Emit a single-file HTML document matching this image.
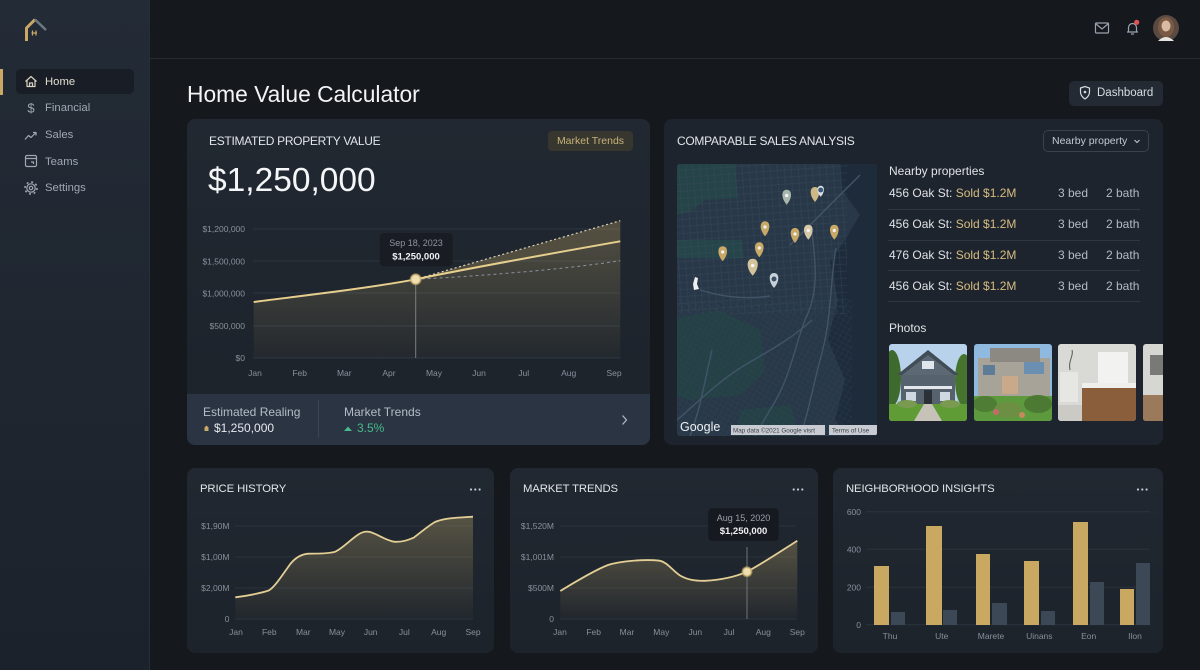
<!DOCTYPE html>
<html><head><meta charset="utf-8">
<style>
*{margin:0;padding:0;box-sizing:border-box}
html,body{width:1200px;height:670px;overflow:hidden;background:#15181d;font-family:"Liberation Sans",sans-serif;color:#e4e7eb}
.a{position:absolute;white-space:nowrap}
.card{position:absolute;background:linear-gradient(180deg,#212831,#1d232b);border-radius:8px;overflow:hidden}
.nav{position:absolute;left:45px;font-size:11.3px;line-height:14px;color:#a0a8b3}
.ttl{position:absolute;font-size:12px;line-height:14px;color:#e3e6ea;letter-spacing:-0.3px}
.bt{position:absolute;font-size:11.3px;line-height:14px;color:#e3e6ea;letter-spacing:-0.1px}
.row{position:absolute;left:889px;font-size:12px;line-height:14px;color:#dfe2e6}
.row b{font-weight:normal;color:#d6bd82}
.rb{position:absolute;font-size:12px;line-height:14px;color:#b3bac3}
.sep{position:absolute;left:888px;width:252px;height:1px;background:#2f3742}
</style></head><body>

<!-- sidebar -->
<div class="a" style="left:0;top:0;width:150px;height:670px;background:linear-gradient(180deg,#232b36,#1c222b);border-right:1px solid #272e38"></div>
<div class="a" style="left:150px;top:58px;width:1050px;height:1px;background:#272c34"></div>
<div class="a" style="left:16px;top:69px;width:118px;height:25px;background:#191e26;border-radius:5px"></div>
<div class="a" style="left:0;top:69px;width:3px;height:26px;background:#c9a965"></div>
<div class="nav" style="top:75px;color:#e2ddd0">Home</div>
<div class="nav" style="top:101px">Financial</div>
<div class="nav" style="top:128px">Sales</div>
<div class="nav" style="top:155px">Teams</div>
<div class="nav" style="top:181px">Settings</div>

<!-- header -->
<div class="a" style="left:187px;top:81px;font-size:22.8px;line-height:26px;color:#f2f4f6">Home Value Calculator</div>
<div class="a" style="left:1069px;top:81px;width:94px;height:25px;background:#232a34;border-radius:5px"></div>
<div class="a" style="left:1097px;top:86px;font-size:11.5px;line-height:14px;color:#d9dde2">Dashboard</div>

<!-- card 1 -->
<div class="card" style="left:187px;top:119px;width:463px;height:326px">
  <div class="a" style="left:0;top:275px;width:463px;height:51px;background:#2a3443"></div>
</div>
<div class="ttl" style="left:209px;top:134px">ESTIMATED PROPERTY VALUE</div>
<div class="a" style="left:548px;top:131px;width:85px;height:20px;background:#37372f;border-radius:4px;font-size:10.5px;line-height:20px;text-align:center;color:#c9b27a">Market Trends</div>
<div class="a" style="left:208px;top:162px;font-size:33.5px;line-height:38px;color:#f5f6f8">$1,250,000</div>
<div class="a" style="left:203px;top:405px;font-size:12px;line-height:14px;color:#b4bcc7">Estimated Realing</div>
<div class="a" style="left:214px;top:421px;font-size:12px;line-height:14px;color:#e8eaee">$1,250,000</div>
<div class="a" style="left:318px;top:400px;width:1px;height:38px;background:#3a4656"></div>
<div class="a" style="left:344px;top:405px;font-size:12px;line-height:14px;color:#b4bcc7">Market Trends</div>
<div class="a" style="left:357px;top:421px;font-size:12px;line-height:14px;color:#48b98a">3.5%</div>

<!-- card 2 -->
<div class="card" style="left:664px;top:119px;width:499px;height:326px;background:#1e242d"></div>
<div class="ttl" style="left:677px;top:134px">COMPARABLE SALES ANALYSIS</div>
<div class="a" style="left:1043px;top:130px;width:106px;height:22px;border:1px solid #39414c;border-radius:5px"></div>
<div class="a" style="left:1052px;top:134px;font-size:10.5px;line-height:14px;color:#c4cad2">Nearby property</div>
<div class="a" style="left:889px;top:164px;font-size:12px;line-height:14px;color:#e0e3e8">Nearby properties</div>
<div class="row" style="top:186px">456 Oak St: <b>Sold $1.2M</b></div>
<div class="row" style="top:217px">456 Oak St: <b>Sold $1.2M</b></div>
<div class="row" style="top:248px">476 Oak St: <b>Sold $1.2M</b></div>
<div class="row" style="top:279px">456 Oak St: <b>Sold $1.2M</b></div>
<div class="rb" style="left:1058px;top:186px">3 bed</div><div class="rb" style="left:1106px;top:186px">2 bath</div>
<div class="rb" style="left:1058px;top:217px">3 bed</div><div class="rb" style="left:1106px;top:217px">2 bath</div>
<div class="rb" style="left:1058px;top:248px">3 bed</div><div class="rb" style="left:1106px;top:248px">2 bath</div>
<div class="rb" style="left:1058px;top:279px">3 bed</div><div class="rb" style="left:1106px;top:279px">2 bath</div>
<div class="sep" style="top:209px"></div><div class="sep" style="top:240px"></div>
<div class="sep" style="top:270px"></div><div class="sep" style="top:301px"></div>
<div class="a" style="left:889px;top:321px;font-size:12px;line-height:14px;color:#e0e3e8">Photos</div>

<!-- bottom cards -->
<div class="card" style="left:187px;top:468px;width:307px;height:185px"></div>
<div class="card" style="left:510px;top:468px;width:308px;height:185px"></div>
<div class="card" style="left:833px;top:468px;width:330px;height:185px"></div>
<div class="bt" style="left:200px;top:482px">PRICE HISTORY</div>
<div class="bt" style="left:523px;top:482px">MARKET TRENDS</div>
<div class="bt" style="left:846px;top:482px">NEIGHBORHOOD INSIGHTS</div>

<svg class="a" style="left:0;top:0" width="1200" height="670" viewBox="0 0 1200 670" xmlns="http://www.w3.org/2000/svg" font-family="Liberation Sans, sans-serif">
<defs>
  <linearGradient id="g1" x1="0" y1="0" x2="0" y2="1">
    <stop offset="0" stop-color="#c9b06e" stop-opacity="0.26"/>
    <stop offset="1" stop-color="#c9b06e" stop-opacity="0.03"/>
  </linearGradient>
  <linearGradient id="g2" x1="0" y1="0" x2="0" y2="1">
    <stop offset="0" stop-color="#c9b06e" stop-opacity="0.32"/>
    <stop offset="1" stop-color="#c9b06e" stop-opacity="0.02"/>
  </linearGradient>
  <pattern id="streets" width="7" height="7" patternUnits="userSpaceOnUse" patternTransform="rotate(-4)">
    <path d="M0,0.5 H7 M0.5,0 V7" stroke="#3a4b5c" stroke-width="0.5" fill="none"/>
  </pattern>
  <pattern id="streets2" width="5" height="5" patternUnits="userSpaceOnUse" patternTransform="rotate(30)">
    <path d="M0,0.5 H5 M0.5,0 V5" stroke="#364757" stroke-width="0.45" fill="none"/>
  </pattern>
  <clipPath id="mapclip"><rect x="677" y="164" width="200" height="272" rx="3"/></clipPath>
  <clipPath id="c2"><rect x="664" y="119" width="499" height="326" rx="8"/></clipPath>
  <clipPath id="p1"><rect x="889" y="344" width="78" height="77" rx="3"/></clipPath>
  <clipPath id="p2"><rect x="974" y="344" width="78" height="77" rx="3"/></clipPath>
  <clipPath id="p3"><rect x="1058" y="344" width="78" height="77" rx="3"/></clipPath>
  <clipPath id="p4"><rect x="1143" y="344" width="78" height="77" rx="3"/></clipPath>
</defs>

<!-- logo -->
<path d="M26.5,41 V28 L35,19.5" stroke="#c9a965" stroke-width="3" fill="none" stroke-linejoin="round"/>
<path d="M35,19.5 L46,30" stroke="#6c7884" stroke-width="2.5" fill="none"/>
<path d="M32.5,30.5 v5 M36,30.5 v5 M31.5,33 h5.5" stroke="#c9a965" stroke-width="1.2"/>

<!-- nav icons -->
<g fill="none" stroke="#a0a8b3" stroke-width="1.2" stroke-linejoin="round">
  <path d="M25.5,81.5 L31,76.5 L36.5,81.5 M27,80.5 V86.5 H35 V80.5 M29.5,86.5 V83 H32.5 V86.5" stroke="#d8d2c0"/>
  <path d="M25,139.5 L28.5,135.5 L31,137.5 L36,132.5 M33,132.5 H36 V135.5"/>
  <rect x="25.5" y="155.5" width="11" height="11" rx="1.5"/>
  <path d="M25.5,158.5 H36.5 M31,162 h2.5 v2"/>
  <circle cx="31" cy="188" r="4.2"/>
  <circle cx="31" cy="188" r="1.7"/>
  <circle cx="31" cy="188" r="6" stroke-width="1.6" stroke-dasharray="2 2.7"/>
</g>
<text x="31" y="112.5" text-anchor="middle" font-size="13" fill="#a0a8b3">$</text>

<!-- header icons -->
<g fill="none" stroke="#9aa3ae" stroke-width="1.2">
  <rect x="1095.5" y="23" width="13" height="10" rx="1"/>
  <path d="M1095.5,23.5 L1102,29 L1108.5,23.5"/>
  <path d="M1127,32 H1138 M1128.5,32 V27.5 A4,4 0 0 1 1136.5,27.5 V32 M1131,34 h3"/>
</g>
<circle cx="1136.7" cy="22.3" r="2.6" fill="#e05252"/>
<circle cx="1166" cy="28" r="13" fill="#5a4a42"/>
<ellipse cx="1166" cy="27" rx="8" ry="10" fill="#7a5a45"/>
<ellipse cx="1166" cy="26" rx="4.5" ry="5.5" fill="#d9bba4"/>
<path d="M1158,41 Q1166,33 1174,41 Z" fill="#e8e4e0"/>
<path d="M1080.5,88 L1085,86.5 L1089.5,88 V92 Q1089.5,96 1085,99 Q1080.5,96 1080.5,92 Z" fill="none" stroke="#d9dde2" stroke-width="1.2"/>
<circle cx="1085" cy="92" r="1.3" fill="#d9dde2"/>

<!-- main chart -->
<g stroke="#2d3642" stroke-width="1">
  <line x1="253" y1="229" x2="620" y2="229"/>
  <line x1="253" y1="261" x2="620" y2="261"/>
  <line x1="253" y1="293" x2="620" y2="293"/>
  <line x1="253" y1="326" x2="620" y2="326"/>
  <line x1="253" y1="358" x2="620" y2="358"/>
</g>
<g font-size="8.5" fill="#87909c" text-anchor="end">
  <text x="245" y="232">$1,200,000</text>
  <text x="245" y="264.5">$1,500,000</text>
  <text x="245" y="296.5">$1,000,000</text>
  <text x="245" y="329">$500,000</text>
  <text x="245" y="361">$0</text>
</g>
<g font-size="8.5" fill="#87909c" text-anchor="middle">
  <text x="255" y="376">Jan</text><text x="299.7" y="376">Feb</text><text x="344.3" y="376">Mar</text>
  <text x="389" y="376">Apr</text><text x="434" y="376">May</text><text x="479" y="376">Jun</text>
  <text x="523.7" y="376">Jul</text><text x="568.7" y="376">Aug</text><text x="614" y="376">Sep</text>
</g>
<path d="M253.7,302 C300,296 370,288 415.7,279.3 C480,266 560,252 620.3,241.3 L620.3,358 L253.7,358 Z" fill="url(#g1)"/>
<path d="M415.7,279.3 L620.3,220.7 L620.3,241.3 C560,252 480,266 415.7,279.3 Z" fill="#c9ac68" fill-opacity="0.3"/>
<path d="M415.7,279.3 L620.3,220.7" stroke="#d8d0bc" stroke-width="1.2" stroke-dasharray="2 2.5" fill="none"/>
<path d="M415.7,279.3 C480,276 560,270 620.3,260.7" stroke="#8a90a0" stroke-width="1" stroke-dasharray="3 3" fill="none"/>
<line x1="415.7" y1="283" x2="415.7" y2="358" stroke="#7b7f84" stroke-width="1"/>
<path d="M253.7,302 C300,296 370,288 415.7,279.3 C480,266 560,252 620.3,241.3" stroke="#e6cf8e" stroke-width="2" fill="none"/>
<circle cx="415.7" cy="279.3" r="5" fill="#efe0b2" stroke="#c9ac68" stroke-opacity="0.6" stroke-width="2"/>
<rect x="379.7" y="233" width="73" height="33.3" rx="4" fill="#191d23"/>
<text x="416" y="246" text-anchor="middle" font-size="9" fill="#8d939c">Sep 18, 2023</text>
<text x="416" y="259.5" text-anchor="middle" font-size="9.5" font-weight="bold" fill="#eef0f2">$1,250,000</text>
<!-- card1 bottom icons -->
<path d="M204.5,431 V427.5 L206.5,425.5 L208.5,427.5 V431 Z" fill="#c9a965"/>
<path d="M344,431 L348,426.5 L352,431 Z" fill="#48b98a"/>
<path d="M622.5,415.5 L626.5,420 L622.5,424.5" stroke="#aeb6c0" stroke-width="1.3" fill="none"/>
<path d="M1134.5,140 L1137,142.5 L1139.5,140" stroke="#c4cad2" stroke-width="1" fill="none"/>

<!-- map -->
<g clip-path="url(#mapclip)">
  <rect x="677" y="164" width="200" height="272" fill="#283848"/>
  <path d="M677,164 H735 L738,198 L705,200 L690,212 L677,214 Z" fill="#254448"/>
  <path d="M677,240 H742 L744,258 H677 Z" fill="#25454a"/>
  <path d="M677,318 L720,310 L760,330 L765,372 L740,395 L690,400 L677,396 Z" fill="#244146"/>
  <path d="M740,410 L790,405 L800,436 L735,436 Z" fill="#244246"/>
  <path d="M840,164 H877 V436 H850 L835,420 L845,380 L828,340 L838,300 L830,262 L845,240 L860,215 L842,190 Z" fill="#1d2b3b"/>
  <rect x="677" y="164" width="170" height="150" fill="url(#streets)" opacity="0.75"/>
  <rect x="677" y="300" width="175" height="136" fill="url(#streets2)" opacity="0.55"/>
  <g fill="none" stroke="#425468" stroke-width="1.4">
    <path d="M812,232 C815,260 820,290 805,320 C795,345 790,380 770,410 L755,436"/>
    <path d="M836,248 C830,280 832,320 820,360 C812,390 808,415 800,436"/>
    <path d="M677,420 C700,400 720,380 745,365 C770,350 790,340 812,320"/>
    <path d="M700,290 C720,296 740,300 770,296"/>
    <path d="M860,175 L790,245"/>
    <path d="M690,436 C700,410 705,380 712,350"/>
  </g>
  <rect x="731" y="425" width="94" height="10" fill="#c8ccd2"/>
  <rect x="829" y="425" width="48" height="10" fill="#c8ccd2"/>
  <text x="733" y="432.5" font-size="6.3" fill="#3a3f46">Map data ©2021 Google visrt</text>
  <text x="832" y="432.5" font-size="6.3" fill="#3a3f46">Terms of Use</text>
  <text x="680" y="431" font-size="12.5" fill="#f0f2f4">Google</text>
</g>
<!-- pins -->
<g>
  <path transform="translate(786.7,196.7)" d="M0,8 C-6,1 -5.5,-7 0,-7 C5.5,-7 6,1 0,8 Z" fill="#a9b6ad"/>
  <path transform="translate(815,194)" d="M0,8 C-6,1 -5.5,-7 0,-7 C5.5,-7 6,1 0,8 Z" fill="#cdb886"/>
  <path transform="translate(820.7,190.7)" d="M0,6 C-4.5,1 -4,-5 0,-5 C4,-5 4.5,1 0,6 Z" fill="#dfe4ea"/>
  <circle cx="820.7" cy="190" r="2.5" fill="#3b5a7a"/>
  <path transform="translate(765,228.3)" d="M0,8 C-6,1 -5.5,-7 0,-7 C5.5,-7 6,1 0,8 Z" fill="#c9a967"/>
  <path transform="translate(795,235)" d="M0,8 C-6,1 -5.5,-7 0,-7 C5.5,-7 6,1 0,8 Z" fill="#c9a967"/>
  <path transform="translate(808.3,231.7)" d="M0,8 C-6,1 -5.5,-7 0,-7 C5.5,-7 6,1 0,8 Z" fill="#d7c9a8"/>
  <path transform="translate(834.3,231.7)" d="M0,8 C-6,1 -5.5,-7 0,-7 C5.5,-7 6,1 0,8 Z" fill="#c9a967"/>
  <path transform="translate(722.7,253.3)" d="M0,8 C-6,1 -5.5,-7 0,-7 C5.5,-7 6,1 0,8 Z" fill="#c9a967"/>
  <path transform="translate(759.3,249.3)" d="M0,8 C-6,1 -5.5,-7 0,-7 C5.5,-7 6,1 0,8 Z" fill="#c9a967"/>
  <path transform="translate(752.7,266.7)" d="M0,9 C-7,1 -6.5,-8 0,-8 C6.5,-8 7,1 0,9 Z" fill="#d3c39b"/>
  <path transform="translate(774,280)" d="M0,8 C-6,1 -5.5,-7 0,-7 C5.5,-7 6,1 0,8 Z" fill="#c9d2da"/>
  <circle cx="774" cy="279" r="2.5" fill="#3b5066"/>
  <g fill="#f4f4f4"><circle cx="765" cy="227" r="1.6"/><circle cx="795" cy="234" r="1.6"/><circle cx="834.3" cy="230.5" r="1.6"/><circle cx="722.7" cy="252" r="1.6"/><circle cx="759.3" cy="248" r="1.6"/><circle cx="752.7" cy="265.5" r="1.8"/><circle cx="808.3" cy="230.5" r="1.6"/><circle cx="786.7" cy="195.5" r="1.6"/></g>
  <path d="M695,277 L698,278 L697,284 L699,289 L694,290 L693,284 Z" fill="#f0f0f0"/>
</g>

<!-- photos -->
<g clip-path="url(#p1)">
  <rect x="889" y="344" width="78" height="77" fill="#b7d2ea"/>
  <ellipse cx="892" cy="378" rx="9" ry="28" fill="#3f6a2d"/>
  <ellipse cx="964" cy="380" rx="9" ry="26" fill="#46742f"/>
  <rect x="901" y="372" width="54" height="34" fill="#56636f"/>
  <polygon points="897,375 928,350 959,375" fill="#414c56"/>
  <polygon points="902,375 928,355 954,375" fill="#5c6873"/>
  <rect x="922" y="361" width="12" height="8" fill="#dfe6ec"/>
  <rect x="904" y="386" width="48" height="3" fill="#e4e8ec"/>
  <rect x="906" y="392" width="10" height="9" fill="#cfd8e0"/>
  <rect x="940" y="392" width="10" height="9" fill="#cfd8e0"/>
  <rect x="924" y="390" width="8" height="14" fill="#2b3036"/>
  <rect x="889" y="404" width="78" height="17" fill="#5f9c36"/>
  <polygon points="924,404 932,404 942,421 914,421" fill="#c6c2b8"/>
  <ellipse cx="907" cy="404" rx="10" ry="4" fill="#7a9a52"/>
  <ellipse cx="950" cy="404" rx="10" ry="4" fill="#7a9a52"/>
</g>
<g clip-path="url(#p2)">
  <rect x="974" y="344" width="78" height="77" fill="#8fb9df"/>
  <rect x="978" y="358" width="72" height="42" fill="#a7a398"/>
  <rect x="990" y="348" width="50" height="14" fill="#8c8982"/>
  <rect x="1024" y="362" width="20" height="12" fill="#6a8fb0"/>
  <rect x="983" y="365" width="12" height="10" fill="#5d7c98"/>
  <rect x="1002" y="376" width="16" height="18" fill="#c9a98a"/>
  <rect x="974" y="396" width="78" height="25" fill="#5d9a3d"/>
  <ellipse cx="985" cy="404" rx="12" ry="8" fill="#4f7d36"/>
  <ellipse cx="1008" cy="410" rx="14" ry="8" fill="#6d8f44"/>
  <ellipse cx="1038" cy="404" rx="14" ry="9" fill="#4c7a33"/>
  <circle cx="996" cy="412" r="3" fill="#c46a6a"/>
  <circle cx="1022" cy="415" r="3" fill="#c48a5a"/>
</g>
<g clip-path="url(#p3)">
  <rect x="1058" y="344" width="78" height="77" fill="#d9d9d5"/>
  <rect x="1098" y="352" width="30" height="32" fill="#f2f2f0"/>
  <rect x="1060" y="372" width="18" height="30" fill="#e6e6e2"/>
  <rect x="1082" y="383" width="54" height="5" fill="#efefec"/>
  <rect x="1082" y="388" width="54" height="33" fill="#8a5d3b"/>
  <rect x="1058" y="405" width="24" height="16" fill="#cbcac5"/>
  <path d="M1070,370 C1068,360 1074,356 1072,350" stroke="#555" stroke-width="1" fill="none"/>
</g>
<g clip-path="url(#c2)">
  <g clip-path="url(#p4)">
    <rect x="1143" y="344" width="78" height="77" fill="#d6d6d2"/>
    <rect x="1150" y="355" width="14" height="20" fill="#3a3a3a" fill-opacity="0.6"/>
    <rect x="1143" y="395" width="78" height="26" fill="#9a7a5a"/>
  </g>
</g>

<!-- price history -->
<g stroke="#2b333e" stroke-width="1">
  <line x1="235" y1="526" x2="473" y2="526"/><line x1="235" y1="557" x2="473" y2="557"/>
  <line x1="235" y1="588" x2="473" y2="588"/><line x1="235" y1="619" x2="473" y2="619"/>
</g>
<g font-size="8.5" fill="#87909c" text-anchor="end">
  <text x="229.5" y="529">$1,90M</text><text x="229.5" y="560">$1,00M</text>
  <text x="229.5" y="591">$2,00M</text><text x="229.5" y="622">0</text>
</g>
<g font-size="8.5" fill="#87909c" text-anchor="middle">
  <text x="236" y="635">Jan</text><text x="269.3" y="635">Feb</text><text x="303.3" y="635">Mar</text>
  <text x="337" y="635">May</text><text x="370.7" y="635">Jun</text><text x="404.3" y="635">Jul</text>
  <text x="438.7" y="635">Aug</text><text x="473" y="635">Sep</text>
</g>
<path d="M235.3,597.3 C245,596 258,594 268.7,590.5 C275,587 283,574 290.3,564 C296,557 302,554 308.7,553.7 C318,553.5 328,554 335.3,551.7 C343,548 350,540 358.7,534.3 C363,531.5 367,531.3 370,532 C378,534 386,541 395,541.8 C403,542 408,540 413.7,537.7 C420,533 428,526 435,522 C442,519 450,518 460.3,517.5 L473,516.7 L473,619 L235.3,619 Z" fill="url(#g2)"/>
<path d="M235.3,597.3 C245,596 258,594 268.7,590.5 C275,587 283,574 290.3,564 C296,557 302,554 308.7,553.7 C318,553.5 328,554 335.3,551.7 C343,548 350,540 358.7,534.3 C363,531.5 367,531.3 370,532 C378,534 386,541 395,541.8 C403,542 408,540 413.7,537.7 C420,533 428,526 435,522 C442,519 450,518 460.3,517.5 L473,516.7" stroke="#e3cf95" stroke-width="1.8" fill="none"/>
<g fill="#c3c9d1"><circle cx="471" cy="489.5" r="1.1"/><circle cx="475.3" cy="489.5" r="1.1"/><circle cx="479.6" cy="489.5" r="1.1"/>
<circle cx="793.7" cy="489.5" r="1.1"/><circle cx="798" cy="489.5" r="1.1"/><circle cx="802.3" cy="489.5" r="1.1"/>
<circle cx="1138" cy="489.5" r="1.1"/><circle cx="1142.3" cy="489.5" r="1.1"/><circle cx="1146.6" cy="489.5" r="1.1"/></g>

<!-- market trends -->
<g stroke="#2b333e" stroke-width="1">
  <line x1="560" y1="526" x2="796" y2="526"/><line x1="560" y1="557" x2="796" y2="557"/>
  <line x1="560" y1="588" x2="796" y2="588"/><line x1="560" y1="619" x2="796" y2="619"/>
</g>
<g font-size="8.5" fill="#87909c" text-anchor="end">
  <text x="554" y="529">$1,520M</text><text x="554" y="560">$1,001M</text>
  <text x="554" y="591">$500M</text><text x="554" y="622">0</text>
</g>
<g font-size="8.5" fill="#87909c" text-anchor="middle">
  <text x="560" y="635">Jan</text><text x="593.7" y="635">Feb</text><text x="627" y="635">Mar</text>
  <text x="661.3" y="635">May</text><text x="695.3" y="635">Jun</text><text x="729" y="635">Jul</text>
  <text x="763.3" y="635">Aug</text><text x="797.3" y="635">Sep</text>
</g>
<path d="M560.3,591 C575,582 595,570 608,565 C620,561 645,559 659.7,560.7 C667,562 672,570 680,575.5 C688,580 695,581 705,580.8 C720,580 735,577 747,571.7 C760,565 775,555 797.3,540.7 L797.3,619 L560.3,619 Z" fill="url(#g2)"/>
<line x1="747" y1="547" x2="747" y2="619" stroke="#6f757c" stroke-width="1"/>
<path d="M560.3,591 C575,582 595,570 608,565 C620,561 645,559 659.7,560.7 C667,562 672,570 680,575.5 C688,580 695,581 705,580.8 C720,580 735,577 747,571.7 C760,565 775,555 797.3,540.7" stroke="#e3cf95" stroke-width="1.8" fill="none"/>
<circle cx="747" cy="571.7" r="4.5" fill="#efe0b2" stroke="#c9ac68" stroke-opacity="0.6" stroke-width="2"/>
<rect x="708.3" y="508.3" width="70.4" height="32.7" rx="4" fill="#161a20"/>
<text x="743.5" y="521" text-anchor="middle" font-size="9" fill="#9aa0a8">Aug 15, 2020</text>
<text x="743.5" y="534" text-anchor="middle" font-size="9.5" font-weight="bold" fill="#eef0f2">$1,250,000</text>

<!-- neighborhood -->
<g stroke="#2b333e" stroke-width="1">
  <line x1="866" y1="511.7" x2="1150" y2="511.7"/><line x1="866" y1="549.3" x2="1150" y2="549.3"/>
  <line x1="866" y1="587.3" x2="1150" y2="587.3"/><line x1="866" y1="624.7" x2="1150" y2="624.7"/>
</g>
<g font-size="8.5" fill="#87909c" text-anchor="end">
  <text x="861" y="515">600</text><text x="861" y="552.5">400</text>
  <text x="861" y="590.5">200</text><text x="861" y="628">0</text>
</g>
<g fill="#c9a961">
  <rect x="874" y="566" width="15" height="59"/><rect x="926" y="526" width="16" height="99"/>
  <rect x="976" y="554" width="14" height="71"/><rect x="1024" y="561" width="15" height="64"/>
  <rect x="1073" y="522" width="15" height="103"/><rect x="1120" y="589" width="14" height="36"/>
</g>
<g fill="#3d4857">
  <rect x="891" y="612" width="14" height="13"/><rect x="943" y="610" width="14" height="15"/>
  <rect x="992" y="603" width="15" height="22"/><rect x="1041" y="611" width="14" height="14"/>
  <rect x="1090" y="582" width="14" height="43"/><rect x="1136" y="563" width="14" height="62"/>
</g>
<g font-size="8.5" fill="#87909c" text-anchor="middle">
  <text x="890" y="639">Thu</text><text x="941.7" y="639">Ute</text><text x="991" y="639">Marete</text>
  <text x="1039.3" y="639">Uinans</text><text x="1088.7" y="639">Eon</text><text x="1135" y="639">Ilon</text>
</g>
</svg>
</body></html>
